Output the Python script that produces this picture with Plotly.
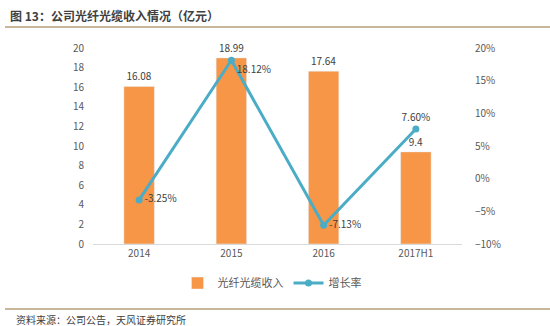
import plotly.graph_objects as go

categories = ["2014", "2015", "2016", "2017H1"]
revenue = [16.08, 18.99, 17.64, 9.4]
growth = [-3.25, 18.12, -7.13, 7.60]
revenue_labels = ["16.08", "18.99", "17.64", "9.4"]
growth_labels = ["-3.25%", "18.12%", "-7.13%", "7.60%"]
growth_pos = ["middle right", "bottom right", "middle right", "top center"]

W, H = 550, 326
L, R, T, B = 93, 462, 48, 244

def px(x):
    return (x - L) / (R - L)

def py(y):
    return (B - y) / (B - T)

FONT = "Noto Sans CJK SC, Noto Sans, sans-serif"
GRAY = "#595959"

fig = go.Figure()
fig.add_trace(go.Bar(
    x=categories, y=revenue, name="光纤光缆收入",
    marker=dict(color="#F79646"), width=0.33,
    text=revenue_labels, textposition="outside",
    textfont=dict(size=10, color="#404040", family=FONT),
    cliponaxis=False,
))
fig.add_trace(go.Scatter(
    x=categories, y=growth, name="增长率", yaxis="y2",
    mode="lines+markers+text",
    line=dict(color="#4BACC6", width=3),
    marker=dict(color="#4BACC6", size=7),
    text=growth_labels, textposition=growth_pos,
    textfont=dict(size=10, color="#404040", family=FONT),
    cliponaxis=False,
))

fig.update_layout(
    width=W, height=H,
    margin=dict(l=L, r=W - R, t=T, b=H - B),
    paper_bgcolor="white", plot_bgcolor="white",
    font=dict(family=FONT, size=10, color=GRAY),
    xaxis=dict(showline=True, linecolor="#D9D9D9", linewidth=1,
               ticks="", tickfont=dict(size=10, color=GRAY), showgrid=False),
    yaxis=dict(range=[0, 20], dtick=2, showgrid=False, zeroline=False,
               ticks="", tickfont=dict(size=10, color=GRAY), ticklabelstandoff=8),
    yaxis2=dict(range=[-10, 20], dtick=5, ticksuffix="%", overlaying="y",
                side="right", showgrid=False, zeroline=False, ticks="",
                tickfont=dict(size=10, color=GRAY), ticklabelstandoff=12),
    showlegend=True,
    legend=dict(orientation="h", x=px(272), xanchor="center",
                y=py(283), yanchor="middle",
                font=dict(size=11, color=GRAY, family=FONT),
                itemwidth=30),
    shapes=[
        dict(type="line", xref="paper", yref="paper",
             x0=px(5), x1=px(550), y0=py(27), y1=py(27),
             line=dict(color="#C9B79C", width=2)),
        dict(type="line", xref="paper", yref="paper",
             x0=px(5), x1=px(550), y0=py(309), y1=py(309),
             line=dict(color="#C9B79C", width=2)),
    ],
    annotations=[
        dict(text="<b>图 13：公司光纤光缆收入情况（亿元）</b>", xref="paper", yref="paper",
             x=px(8), y=py(15), xanchor="left", yanchor="middle", showarrow=False,
             font=dict(size=12, color="#404040", family=FONT)),
        dict(text="资料来源：公司公告，天风证券研究所", xref="paper", yref="paper",
             x=px(14), y=py(319), xanchor="left", yanchor="middle", showarrow=False,
             font=dict(size=10, color="#404040", family=FONT)),
    ],
)

fig.write_html("out.html")
